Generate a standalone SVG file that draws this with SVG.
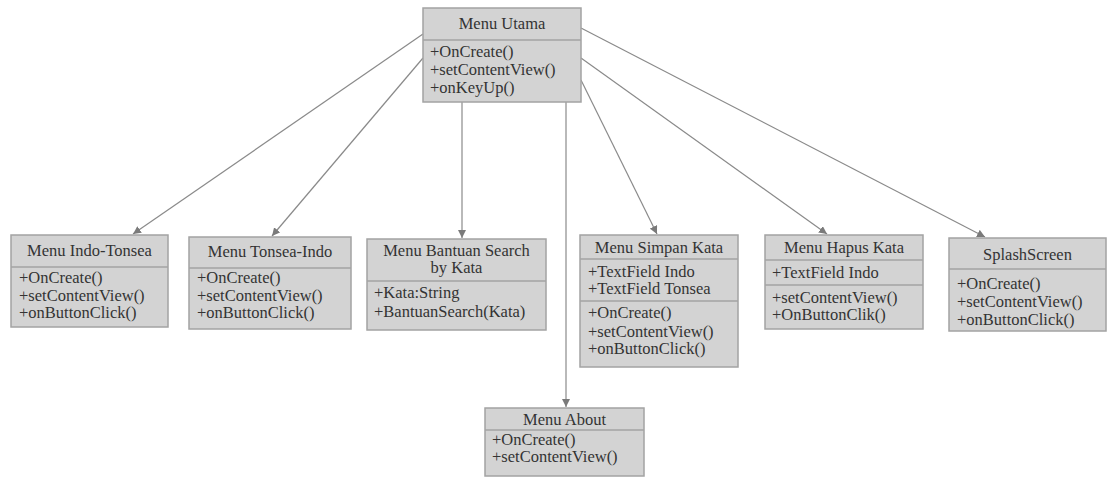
<svg xmlns="http://www.w3.org/2000/svg" width="1108" height="477" viewBox="0 0 1108 477">
<defs>
<style>
.box{fill:#d3d3d3;stroke:#a3a3a3;stroke-width:1.5}
.div{stroke:#a3a3a3;stroke-width:1.5}
.t{font-family:"Liberation Serif","Times New Roman",serif;font-size:16.5px;fill:#333}
.c{text-anchor:middle}
.con line{stroke:#8a8a8a;stroke-width:1.2}
</style>
<marker id="ah" viewBox="0 0 10 10" refX="10" refY="5" markerWidth="8" markerHeight="8" orient="auto" markerUnits="userSpaceOnUse">
<path d="M0,0 L10,5 L0,10 z" fill="#7a7a7a"/>
</marker>
</defs>
<rect width="1108" height="477" fill="#fff"/>
<g class="con">
<line x1="423" y1="34" x2="133" y2="234" marker-end="url(#ah)"/>
<line x1="423" y1="58" x2="272" y2="236" marker-end="url(#ah)"/>
<line x1="462" y1="102" x2="462" y2="238" marker-end="url(#ah)"/>
<line x1="566" y1="102" x2="566" y2="407" marker-end="url(#ah)"/>
<line x1="581" y1="80" x2="657" y2="234" marker-end="url(#ah)"/>
<line x1="581" y1="58" x2="827" y2="234" marker-end="url(#ah)"/>
<line x1="581" y1="28" x2="985" y2="237" marker-end="url(#ah)"/>
</g>
<g id="menu-utama">
<rect class="box" x="423" y="8" width="158" height="94"/>
<line class="div" x1="423" y1="40" x2="581" y2="40"/>
<text class="t c" x="502" y="29">Menu Utama</text>
<text class="t" x="430" y="57">+OnCreate()</text>
<text class="t" x="430" y="75">+setContentView()</text>
<text class="t" x="430" y="93">+onKeyUp()</text>
</g>
<g id="menu-indo-tonsea">
<rect class="box" x="11" y="235" width="157" height="92"/>
<line class="div" x1="11" y1="267" x2="168" y2="267"/>
<text class="t c" x="89.5" y="256">Menu Indo-Tonsea</text>
<text class="t" x="19" y="283">+OnCreate()</text>
<text class="t" x="19" y="301">+setContentView()</text>
<text class="t" x="19" y="318">+onButtonClick()</text>
</g>
<g id="menu-tonsea-indo">
<rect class="box" x="189" y="237" width="162" height="92"/>
<line class="div" x1="189" y1="268" x2="351" y2="268"/>
<text class="t c" x="270" y="257">Menu Tonsea-Indo</text>
<text class="t" x="197" y="283">+OnCreate()</text>
<text class="t" x="197" y="301">+setContentView()</text>
<text class="t" x="197" y="318">+onButtonClick()</text>
</g>
<g id="menu-bantuan">
<rect class="box" x="367" y="239" width="179" height="91"/>
<line class="div" x1="367" y1="281" x2="546" y2="281"/>
<text class="t c" x="456.5" y="256">Menu Bantuan Search</text>
<text class="t c" x="456.5" y="273">by Kata</text>
<text class="t" x="374" y="298">+Kata:String</text>
<text class="t" x="374" y="317">+BantuanSearch(Kata)</text>
</g>
<g id="menu-simpan">
<rect class="box" x="580" y="235" width="158" height="132"/>
<line class="div" x1="580" y1="259" x2="738" y2="259"/>
<line class="div" x1="580" y1="301" x2="738" y2="301"/>
<text class="t c" x="659" y="253">Menu Simpan Kata</text>
<text class="t" x="588" y="277">+TextField Indo</text>
<text class="t" x="588" y="294">+TextField Tonsea</text>
<text class="t" x="588" y="318">+OnCreate()</text>
<text class="t" x="588" y="337">+setContentView()</text>
<text class="t" x="588" y="354">+onButtonClick()</text>
</g>
<g id="menu-hapus">
<rect class="box" x="765" y="235" width="158" height="94"/>
<line class="div" x1="765" y1="260" x2="923" y2="260"/>
<line class="div" x1="765" y1="285" x2="923" y2="285"/>
<text class="t c" x="844" y="253">Menu Hapus Kata</text>
<text class="t" x="772" y="278">+TextField Indo</text>
<text class="t" x="772" y="303">+setContentView()</text>
<text class="t" x="772" y="320">+OnButtonClik()</text>
</g>
<g id="splashscreen">
<rect class="box" x="949" y="238" width="157" height="93"/>
<line class="div" x1="949" y1="269" x2="1106" y2="269"/>
<text class="t c" x="1027.5" y="260">SplashScreen</text>
<text class="t" x="957" y="289">+OnCreate()</text>
<text class="t" x="957" y="307">+setContentView()</text>
<text class="t" x="957" y="325">+onButtonClick()</text>
</g>
<g id="menu-about">
<rect class="box" x="485" y="408" width="159" height="68"/>
<line class="div" x1="485" y1="430" x2="644" y2="430"/>
<text class="t c" x="564.5" y="425">Menu About</text>
<text class="t" x="492" y="445">+OnCreate()</text>
<text class="t" x="492" y="462">+setContentView()</text>
</g>
</svg>
